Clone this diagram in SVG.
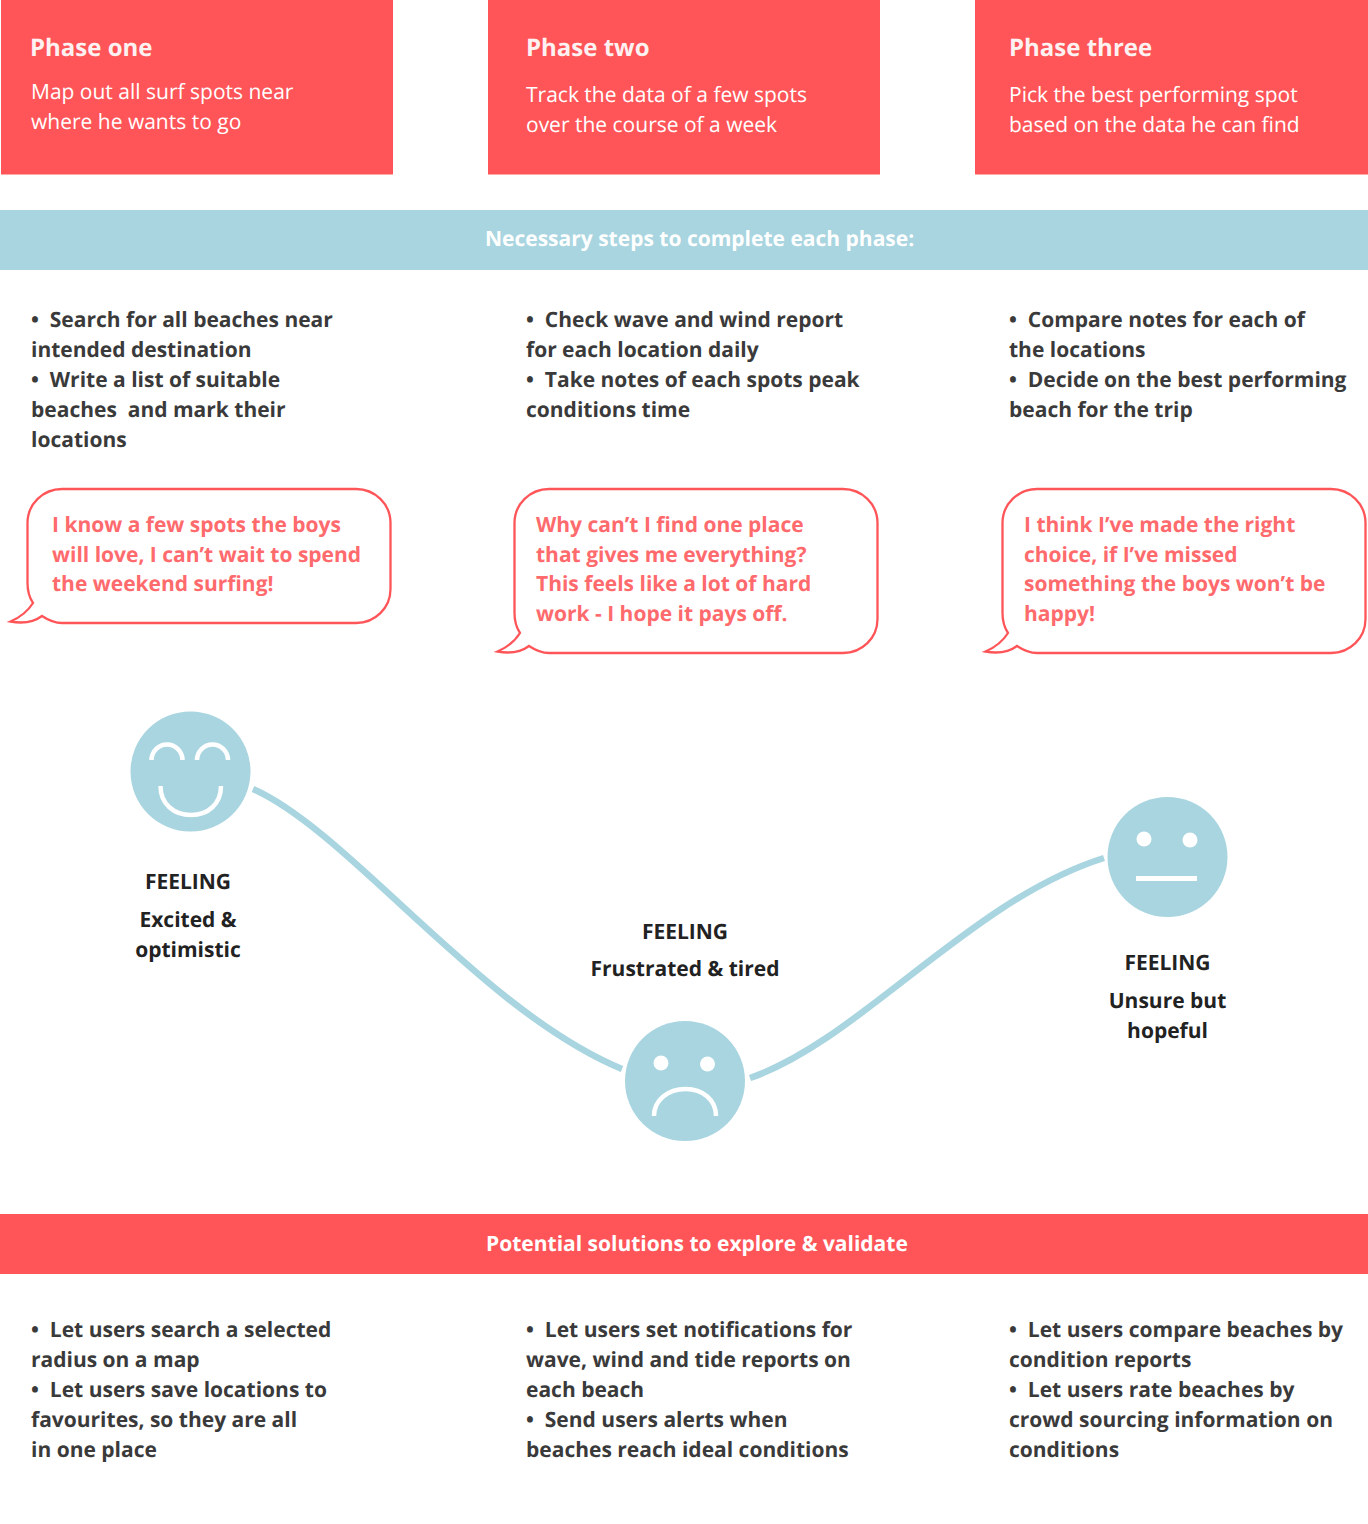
<svg xmlns="http://www.w3.org/2000/svg" width="1368" height="1524" viewBox="0 0 1368 1524">
<style>
text{font-family:"Open Sans","Noto Sans","Liberation Sans",sans-serif;white-space:pre;text-rendering:geometricPrecision}
.coral{fill:#ff5558}
.blue{fill:#a8d5e0}
.h{font-size:24px;font-weight:700;fill:#fdf1f1}
.p{font-size:21px;font-weight:400;fill:#fff}
.band{font-size:21px;font-weight:700;fill:#fff}
.b{font-size:21px;font-weight:700;fill:#3a3a3a}
.q{font-size:21px;font-weight:700;fill:#ff6a6d}
.f{font-size:21px;font-weight:700;fill:#222;text-anchor:middle}
.bub{fill:#fff;stroke:#ff5558;stroke-width:2.300}
.line{fill:none;stroke:#a8d5e0;stroke-width:6.500}
.w{fill:none;stroke:#fff;stroke-width:4.500}
</style>
<g id="phase-one"><rect class="coral" x="1" y="0" width="392" height="174.500"/><text class="h" x="30" y="56">Phase one</text><text class="p" x="31" y="99">Map out all surf spots near</text><text class="p" x="31" y="129">where he wants to go</text></g>
<g id="phase-two"><rect class="coral" x="488" y="0" width="392" height="174.500"/><text class="h" x="526" y="56">Phase two</text><text class="p" x="526" y="102">Track the data of a few spots</text><text class="p" x="526" y="132">over the course of a week</text></g>
<g id="phase-three"><rect class="coral" x="975" y="0" width="393" height="174.500"/><text class="h" x="1009" y="56">Phase three</text><text class="p" x="1009" y="102">Pick the best performing spot</text><text class="p" x="1009" y="132">based on the data he can find</text></g>
<g id="steps-band"><rect class="blue" x="0" y="210" width="1368" height="60"/><text class="band" x="485" y="246">Necessary steps to complete each phase:</text></g>
<g id="steps-one"><text class="b" x="31" y="327">•  Search for all beaches near</text><text class="b" x="31" y="357">intended destination</text><text class="b" x="31" y="387">•  Write a list of suitable</text><text class="b" x="31" y="417">beaches  and mark their</text><text class="b" x="31" y="447">locations</text></g>
<g id="steps-two"><text class="b" x="526" y="327">•  Check wave and wind report</text><text class="b" x="526" y="357">for each location daily</text><text class="b" x="526" y="387">•  Take notes of each spots peak</text><text class="b" x="526" y="417">conditions time</text></g>
<g id="steps-three"><text class="b" x="1009" y="327">•  Compare notes for each of</text><text class="b" x="1009" y="357">the locations</text><text class="b" x="1009" y="387">•  Decide on the best performing</text><text class="b" x="1009" y="417">beach for the trip</text></g>
<g id="bubble-one"><path class="bub" d="M62 489H356C375 489 390.500 504 390.500 523V589C390.500 608 375 623 356 623H62C54 623 48 620 42 616C34 622 24 624 10.500 621.500C21 617 28 611 33 603C29 597 27.500 590 27.500 583V523C27.500 504 43 489 62 489Z"/><text class="q" x="52" y="532">I know a few spots the boys</text><text class="q" x="52" y="562">will love, I can’t wait to spend</text><text class="q" x="52" y="591">the weekend surfing!</text></g>
<g id="bubble-two"><path class="bub" d="M549 489H843C862 489 877.500 504 877.500 523V619C877.500 638 862 653 843 653H549C541 653 535 650 529 646C521 652 511 654 497.500 651.500C508 647 515 641 520 633C516 627 514.500 620 514.500 613V523C514.500 504 530 489 549 489Z"/><text class="q" x="536" y="532">Why can’t I find one place</text><text class="q" x="536" y="562">that gives me everything?</text><text class="q" x="536" y="591">This feels like a lot of hard</text><text class="q" x="536" y="621">work - I hope it pays off.</text></g>
<g id="bubble-three"><path class="bub" d="M1037 489H1331C1350 489 1365.500 504 1365.500 523V619C1365.500 638 1350 653 1331 653H1037C1029 653 1023 650 1017 646C1009 652 999 654 985.500 651.500C996 647 1003 641 1008 633C1004 627 1002.500 620 1002.500 613V523C1002.500 504 1018 489 1037 489Z"/><text class="q" x="1024" y="532">I think I’ve made the right</text><text class="q" x="1024" y="562">choice, if I’ve missed</text><text class="q" x="1024" y="591">something the boys won’t be</text><text class="q" x="1024" y="621">happy!</text></g>
<g id="connectors"><path class="line" d="M253 789C350 832 480 1010 622 1069"/><path class="line" d="M750 1078C860 1040 970 900 1104 858"/></g>
<g id="face-happy"><circle class="blue" cx="190.500" cy="771.500" r="60"/><path class="w" d="M151.500 760A15.500 15.500 0 0 1 182.500 760M197 760A15.500 15.500 0 0 1 228 760M160.500 786C160.500 804 174 815 191 815C208 815 221 804 221 786"/></g>
<g id="feeling-one"><text class="f" x="188" y="889">FEELING</text><text class="f" x="188" y="927">Excited &amp;</text><text class="f" x="188" y="957">optimistic</text></g>
<g id="face-sad"><circle class="blue" cx="685" cy="1081" r="60"/><circle cx="661" cy="1063" r="7.500" fill="#fff"/><circle cx="707.500" cy="1064" r="7.500" fill="#fff"/><path class="w" d="M654 1116C654 1100 668 1089 685.500 1089C703 1089 716 1100 716 1116"/></g>
<g id="feeling-two"><text class="f" x="685" y="939">FEELING</text><text class="f" x="685" y="976">Frustrated &amp; tired</text></g>
<g id="face-neutral"><circle class="blue" cx="1167.500" cy="857" r="60"/><circle cx="1144" cy="839" r="7.500" fill="#fff"/><circle cx="1190" cy="840" r="7.500" fill="#fff"/><rect x="1136" y="876" width="61" height="5" fill="#fff"/></g>
<g id="feeling-three"><text class="f" x="1167.500" y="970">FEELING</text><text class="f" x="1167.500" y="1008">Unsure but</text><text class="f" x="1167.500" y="1038">hopeful</text></g>
<g id="solutions-band"><rect class="coral" x="0" y="1214" width="1368" height="60"/><text class="band" x="486" y="1251">Potential solutions to explore &amp; validate</text></g>
<g id="solutions-one"><text class="b" x="31" y="1337">•  Let users search a selected</text><text class="b" x="31" y="1367">radius on a map</text><text class="b" x="31" y="1397">•  Let users save locations to</text><text class="b" x="31" y="1427">favourites, so they are all</text><text class="b" x="31" y="1457">in one place</text></g>
<g id="solutions-two"><text class="b" x="526" y="1337">•  Let users set notifications for</text><text class="b" x="526" y="1367">wave, wind and tide reports on</text><text class="b" x="526" y="1397">each beach</text><text class="b" x="526" y="1427">•  Send users alerts when</text><text class="b" x="526" y="1457">beaches reach ideal conditions</text></g>
<g id="solutions-three"><text class="b" x="1009" y="1337">•  Let users compare beaches by</text><text class="b" x="1009" y="1367">condition reports</text><text class="b" x="1009" y="1397">•  Let users rate beaches by</text><text class="b" x="1009" y="1427">crowd sourcing information on</text><text class="b" x="1009" y="1457">conditions</text></g>
</svg>
